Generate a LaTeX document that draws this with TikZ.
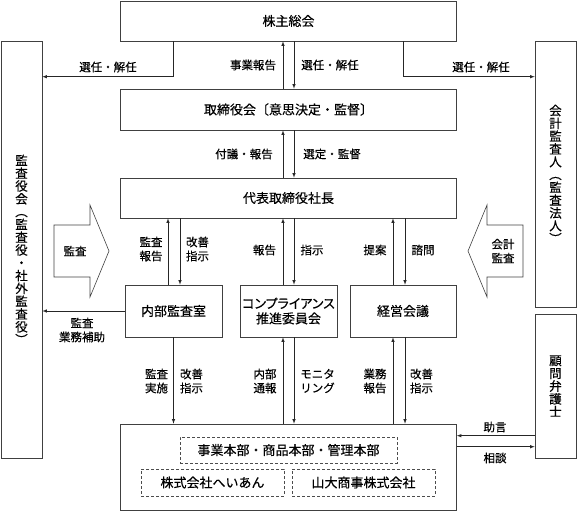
\documentclass[tikz,border=0pt]{standalone}
\usepackage{fontspec}
\setmainfont{Noto Sans CJK JP}[FakeBold=0.4]
\usetikzlibrary{arrows, positioning, calc}

\tikzset{
  box/.style={rectangle, draw=black!75, line width=0.6pt, inner sep=0pt, align=center, font=\fontsize{13}{15}\selectfont},
  subbox/.style={rectangle, draw=black!70, dash pattern=on 3pt off 2pt, line width=0.6pt, inner sep=0pt, font=\fontsize{13}{15}\selectfont},
  lbl/.style={inner sep=0pt, align=center},
  vtext/.style={inner sep=0pt, align=center, font=\fontsize{12.5}{12.8}\selectfont},
  link/.style={->, >=latex, line width=0.6pt, black!85}
}

\begin{document}
\begin{tikzpicture}[x=1pt, y=-1pt, font=\fontsize{11.5}{14}\selectfont]
\useasboundingbox (0,0) rectangle (577,511);

% Main boxes
\node[box, minimum width=336pt, minimum height=40pt] (soukai) at (288.5,21) {株主総会};
\node[box, minimum width=336pt, minimum height=41pt] (board) at (288.5,109.5) {取締役会〔意思決定・監督〕};
\node[box, minimum width=336pt, minimum height=40pt] (ceo) at (288.5,198) {代表取締役社長};
\node[box, minimum width=97pt, minimum height=52pt] (naibu) at (173.5,311) {内部監査室};
\node[box, minimum width=97pt, minimum height=52pt] (comp) at (288.5,311) {\addfontfeatures{RawFeature=+palt}コンプライアンス\\推進委員会};
\node[box, minimum width=106pt, minimum height=52pt] (keiei) at (403,311) {経営会議};
\node[box, minimum width=336pt, minimum height=86pt] (ops) at (288.5,467) {};
\node[subbox, minimum width=217pt, minimum height=26pt] (honbu) at (288.5,450) {事業本部・商品本部・管理本部};
\node[subbox, minimum width=143pt, minimum height=27pt] (heian) at (212.5,482.5) {株式会社へいあん};
\node[subbox, minimum width=143pt, minimum height=27pt] (yamadai) at (363.5,482.5) {山大商事株式会社};

% Side boxes
\node[box, minimum width=41pt, minimum height=417pt] (kansa) at (21.5,249.5) {};
\node[vtext] (kansatxt) at (kansa.center) {監\\査\\役\\会\\︵\\監\\査\\役\\・\\社\\外\\監\\査\\役\\︶};
\node[box, minimum width=41pt, minimum height=266pt] (kaikei) at (555.5,174) {};
\node[vtext] (kaikeitxt) at (kaikei.center) {会\\計\\監\\査\\人\\︵\\監\\査\\法\\人\\︶};
\node[box, minimum width=41pt, minimum height=144pt] (bengo) at (555.5,386) {};
\node[vtext] (bengotxt) at (bengo.center) {顧\\問\\弁\\護\\士};

% Big arrows
\draw[black!75, line width=0.6pt] (54,225) -- (90,225) -- (90,205) -- (109,251) -- (90,297) -- (90,277) -- (54,277) -- cycle;
\node[lbl] (kansaarr) at (75,251) {監査};
\draw[black!75, line width=0.6pt] (523,225) -- (487,225) -- (487,205) -- (468,251) -- (487,297) -- (487,277) -- (523,277) -- cycle;
\node[lbl] (kaikeiarr) at (503,251) {会計\\監査};

% Shareholders to auditors
\coordinate (selL) at ([yshift=-36pt]kansa.north east);
\coordinate (selR) at ([yshift=-36pt]kaikei.north west);
\draw[link] ([xshift=-115.5pt]soukai.south) |- (selL);
\draw[link] ([xshift=114.5pt]soukai.south) |- (selR);
\node[lbl] (sel1) at (108,67) {選任・解任};
\node[lbl] (sel3) at (481,67) {選任・解任};

% Shareholders <-> board <-> CEO
\draw[link] ([xshift=-5.5pt]board.north) -- ([xshift=-5.5pt]soukai.south);
\draw[link] ([xshift=5.5pt]soukai.south) -- ([xshift=5.5pt]board.north);
\draw[link] ([xshift=-5.5pt]ceo.north) -- ([xshift=-5.5pt]board.south);
\draw[link] ([xshift=5.5pt]board.south) -- ([xshift=5.5pt]ceo.north);
\node[lbl] (jigyo) at (253,65) {事業報告};
\node[lbl] (sel2) at (330,65) {選任・解任};
\node[lbl] (fugi) at (244,154) {付議・報告};
\node[lbl] (sentei) at (332,154) {選定・監督};

% CEO <-> committees
\draw[link] ([xshift=-5.5pt]naibu.north) -- ([xshift=-5.5pt]naibu.north |- ceo.south);
\draw[link] ([xshift=6.5pt]naibu.north |- ceo.south) -- ([xshift=6.5pt]naibu.north);
\draw[link] ([xshift=-5.5pt]comp.north) -- ([xshift=-5.5pt]ceo.south);
\draw[link] ([xshift=5.5pt]ceo.south) -- ([xshift=5.5pt]comp.north);
\draw[link] ([xshift=-10pt]keiei.north) -- ([xshift=-10pt]keiei.north |- ceo.south);
\draw[link] ([xshift=2pt]keiei.north |- ceo.south) -- ([xshift=2pt]keiei.north);
\node[lbl] (kansahoukoku) at (151,249) {監査\\報告};
\node[lbl] (kaizen1) at (197.5,249) {改善\\指示};
\node[lbl] (houkoku) at (264.5,250) {報告};
\node[lbl] (shiji) at (312,250) {指示};
\node[lbl] (teian) at (375,250) {提案};
\node[lbl] (shimon) at (423,250) {諮問};

% Internal audit support
\draw[link] (naibu.west) -- (naibu.west -| kansa.east);
\node[lbl] (hojo) at (82,330) {監査\\業務補助};

% Committees <-> operations
\draw[link] (naibu.south) -- (naibu.south |- ops.north);
\draw[link] ([xshift=-5.5pt]ops.north) -- ([xshift=-5.5pt]comp.south);
\draw[link] ([xshift=5.5pt]comp.south) -- ([xshift=5.5pt]ops.north);
\draw[link] ([xshift=-10pt]keiei.south |- ops.north) -- ([xshift=-10pt]keiei.south);
\draw[link] ([xshift=2pt]keiei.south) -- ([xshift=2pt]keiei.south |- ops.north);
\node[lbl] (jisshi) at (156.5,381) {監査\\実施};
\node[lbl] (kaizen2) at (191.5,381) {改善\\指示};
\node[lbl] (tsuuhou) at (265,381) {内部\\通報};
\node[lbl] (monitor) at (317.5,381) {モニタ\\リング};
\node[lbl] (gyoumu) at (375,381) {業務\\報告};
\node[lbl] (kaizen3) at (421.5,381) {改善\\指示};

% Legal counsel
\coordinate (advin) at ([yshift=-12pt]ops.north east);
\coordinate (advout) at ([yshift=-23pt]ops.north east);
\draw[link] (advin -| bengo.west) -- (advin);
\draw[link] (advout) -- (advout -| bengo.west);
\node[lbl] (jogen) at (495,427) {助言};
\node[lbl] (soudan) at (495,458) {相談};
\end{tikzpicture}
\end{document}
